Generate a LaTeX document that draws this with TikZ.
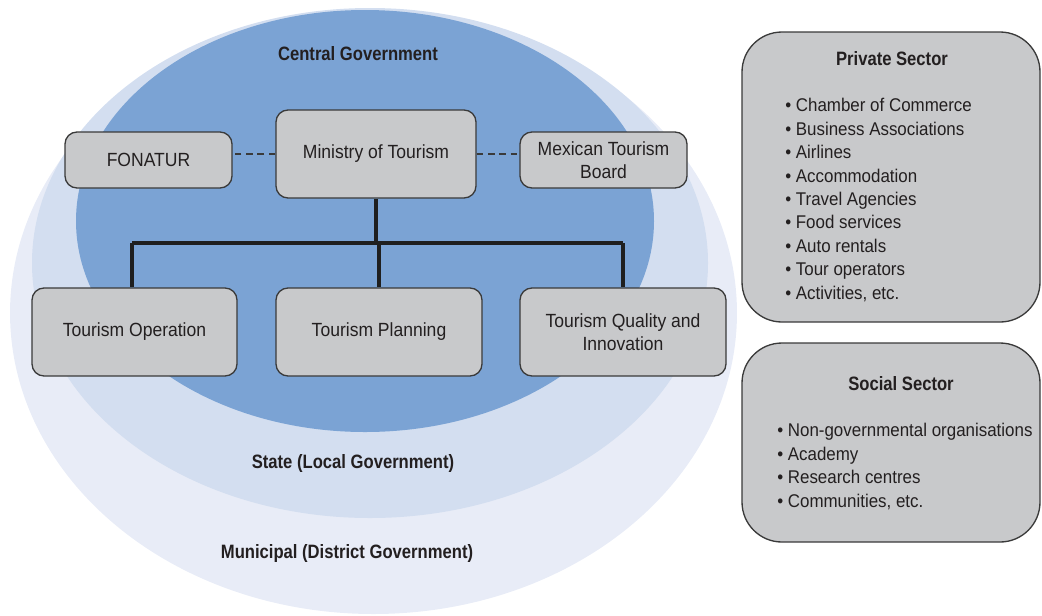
\documentclass[tikz,border=0pt]{standalone}
\usepackage{fontspec}
\setmainfont{Liberation Sans}[FakeStretch=0.92, BoldFeatures={FakeStretch=0.86}]
\definecolor{darkblue}{HTML}{7BA3D4}
\definecolor{midblue}{HTML}{D3DEF0}
\definecolor{lightblue}{HTML}{E8ECF7}
\definecolor{boxgray}{HTML}{C8C9CB}
\definecolor{edgegray}{HTML}{3A3A3A}
\definecolor{ink}{HTML}{231F20}
\tikzset{
  govbox/.style={draw=edgegray, line width=1pt, fill=boxgray, rounded corners=9pt,
    text=ink, align=center, font=\fontsize{14.3}{17.3}\selectfont, inner sep=0pt},
  sectorbox/.style={draw=edgegray, line width=1pt, fill=boxgray, rounded corners=30pt},
  levellabel/.style={text=ink, font=\fontsize{14.5}{17}\selectfont\bfseries},
  listtext/.style={text=ink, align=left, anchor=west, font=\fontsize{13.8}{17.6}\selectfont, inner sep=0pt},
  dashlink/.style={dashed, dash pattern=on 5pt off 3.5pt, line width=1.3pt, draw=edgegray},
  treelink/.style={line width=3.2pt, draw=black!88}
}
\begin{document}
\begin{tikzpicture}[x=0.75pt,y=-0.75pt]
\useasboundingbox (0,0) rectangle (1042,615);
% government levels
\fill[lightblue] (373.5,313) ellipse [x radius=272.6pt, y radius=225.75pt];
\fill[midblue] (370,263) ellipse [x radius=253.5pt, y radius=191.25pt];
\fill[darkblue] (365,221) ellipse [x radius=216.75pt, y radius=158.25pt];
\node[levellabel] (central) at (358,54) {Central Government};
\node[levellabel] (state) at (353,463) {State (Local Government)};
\node[levellabel] (municipal) at (347,553) {Municipal (District Government)};
% tree
\coordinate (bar) at (376,243);
\draw[treelink] (132,243) -- (623,243);
\node[govbox, minimum width=150pt, minimum height=66pt] (min) at (376,154) {Ministry of Tourism};
\node[govbox, minimum width=125.25pt, minimum height=42pt] (fon) at (148.5,160) {FONATUR};
\node[govbox, minimum width=125.25pt, minimum height=42pt] (mtb) at (603.5,160) {Mexican Tourism\\Board};
\node[govbox, minimum width=153.75pt, minimum height=66pt] (op) at (134.5,332) {Tourism Operation};
\node[govbox, minimum width=154.5pt, minimum height=66pt] (plan) at (379,332) {Tourism Planning};
\node[govbox, minimum width=154.5pt, minimum height=66pt] (qual) at (623,332) {Tourism Quality and\\Innovation};
\draw[dashlink] (min.west) -- (fon.east |- min.west);
\draw[dashlink] (min.east) -- (mtb.west |- min.east);
\draw[treelink] (min.south) -- (bar);
\draw[treelink] (bar) -- (bar -| plan.north) -- (plan.north);
\draw[treelink] (132,243) -- (132,0 |- op.north);
\draw[treelink] (623,243) -- (623,0 |- qual.north);
% sectors
\node[sectorbox, minimum width=223.5pt, minimum height=217.5pt] (private) at (891,177) {};
\node[levellabel] (privtitle) at (892,59) {Private Sector};
\node[listtext] (privlist) at (785,200) {• Chamber of Commerce\\• Business Associations\\• Airlines\\• Accommodation\\• Travel Agencies\\• Food services\\• Auto rentals\\• Tour operators\\• Activities, etc.};
\node[sectorbox, minimum width=223.5pt, minimum height=149.25pt] (social) at (891,442.5) {};
\node[levellabel] (soctitle) at (901,384) {Social Sector};
\node[listtext] (soclist) at (777,466.5) {• Non-governmental organisations\\• Academy\\• Research centres\\• Communities, etc.};
\end{tikzpicture}
\end{document}
